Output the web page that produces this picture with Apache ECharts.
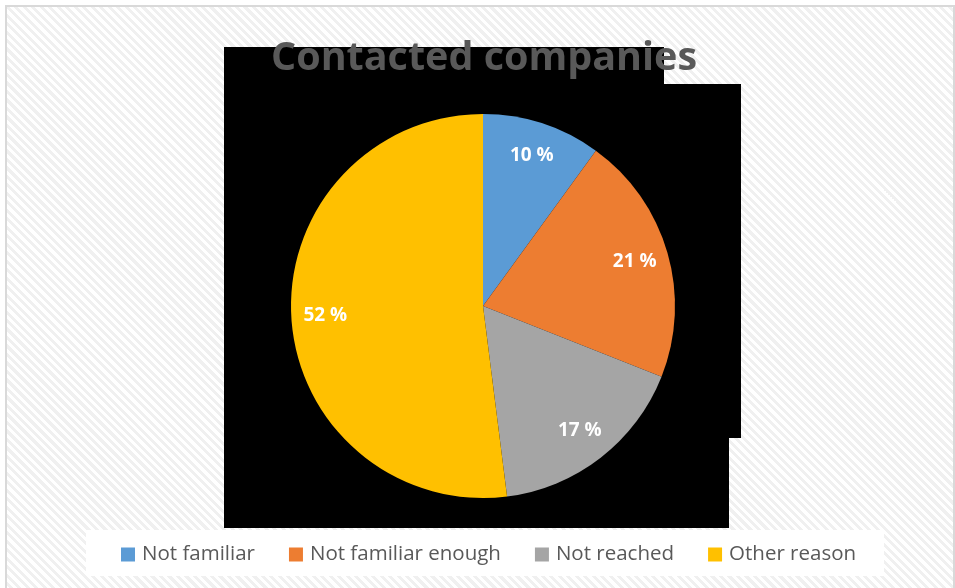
<!DOCTYPE html>
<html>
<head>
<meta charset="utf-8">
<script src="https://cdn.jsdelivr.net/npm/echarts@6/dist/echarts.min.js"></script>
<style>
html,body{margin:0;padding:0;width:955px;height:588px;overflow:hidden;background:#fff;}
#frame{position:absolute;left:5px;top:5px;width:946px;height:600px;border:2px solid #d9d9d9;
background:repeating-linear-gradient(45deg,#ffffff 0px,#ffffff 3px,#f0f0f0 3px,#f0f0f0 6px);}
#chart{position:absolute;left:0;top:0;width:955px;height:588px;}
</style>
</head>
<body>
<div id="frame"></div>
<div id="chart"></div>
<script>
const categories = ["Not familiar", "Not familiar enough", "Not reached", "Other reason"];
const values = [10, 21, 17, 52];
const colors = ["#5B9BD5", "#ED7D31", "#A5A5A5", "#FFC000"];
const titleText = "Contacted companies";

const pieData = categories.map((c, i) => ({name: c, value: values[i], itemStyle: {color: colors[i]}}));

const chart = echarts.init(document.getElementById('chart'), null, {renderer: 'canvas'});
chart.setOption({
  backgroundColor: 'transparent',
  animation: false,
  title: {
    text: titleText,
    left: 266,
    top: 34,
    textStyle: {fontFamily: 'Open Sans', fontWeight: 'bold', fontSize: 39.5, color: '#595959'}
  },
  graphic: [
    {type: 'polygon', z: -10, silent: true,
     shape: {points: [[224,47],[664,47],[664,84],[741,84],[741,438],[729,438],[729,528],[224,528]]},
     style: {fill: '#000'}},
    {type: 'rect', z: -10, silent: true,
     shape: {x: 86, y: 530, width: 798, height: 46},
     style: {fill: '#fff'}}
  ],
  legend: {
    data: categories,
    top: 539,
    left: 116,
    itemWidth: 14,
    itemHeight: 14,
    itemGap: 34,
    icon: 'rect',
    textStyle: {fontFamily: 'Open Sans', fontSize: 20.5, color: '#595959', padding: [0,0,0,2]}
  },
  series: [{
    type: 'pie',
    center: [483, 306],
    radius: 192,
    startAngle: 90,
    clockwise: true,
    label: {show: false},
    labelLine: {show: false},
    itemStyle: {borderWidth: 0},
    emphasis: {disabled: true},
    data: pieData
  }, {
    type: 'pie',
    center: [483, 306],
    radius: [118, 192],
    startAngle: 90,
    clockwise: true,
    silent: true,
    label: {
      show: true,
      position: 'inside',
      formatter: '{c} %',
      color: '#fff',
      fontFamily: 'Open Sans',
      fontWeight: 'bold',
      fontSize: 19
    },
    labelLine: {show: false},
    itemStyle: {color: 'transparent', borderWidth: 0},
    emphasis: {disabled: true},
    data: categories.map((c, i) => ({name: c, value: values[i], itemStyle: {color: 'transparent'}}))
  }]
});
</script>
</body>
</html>
